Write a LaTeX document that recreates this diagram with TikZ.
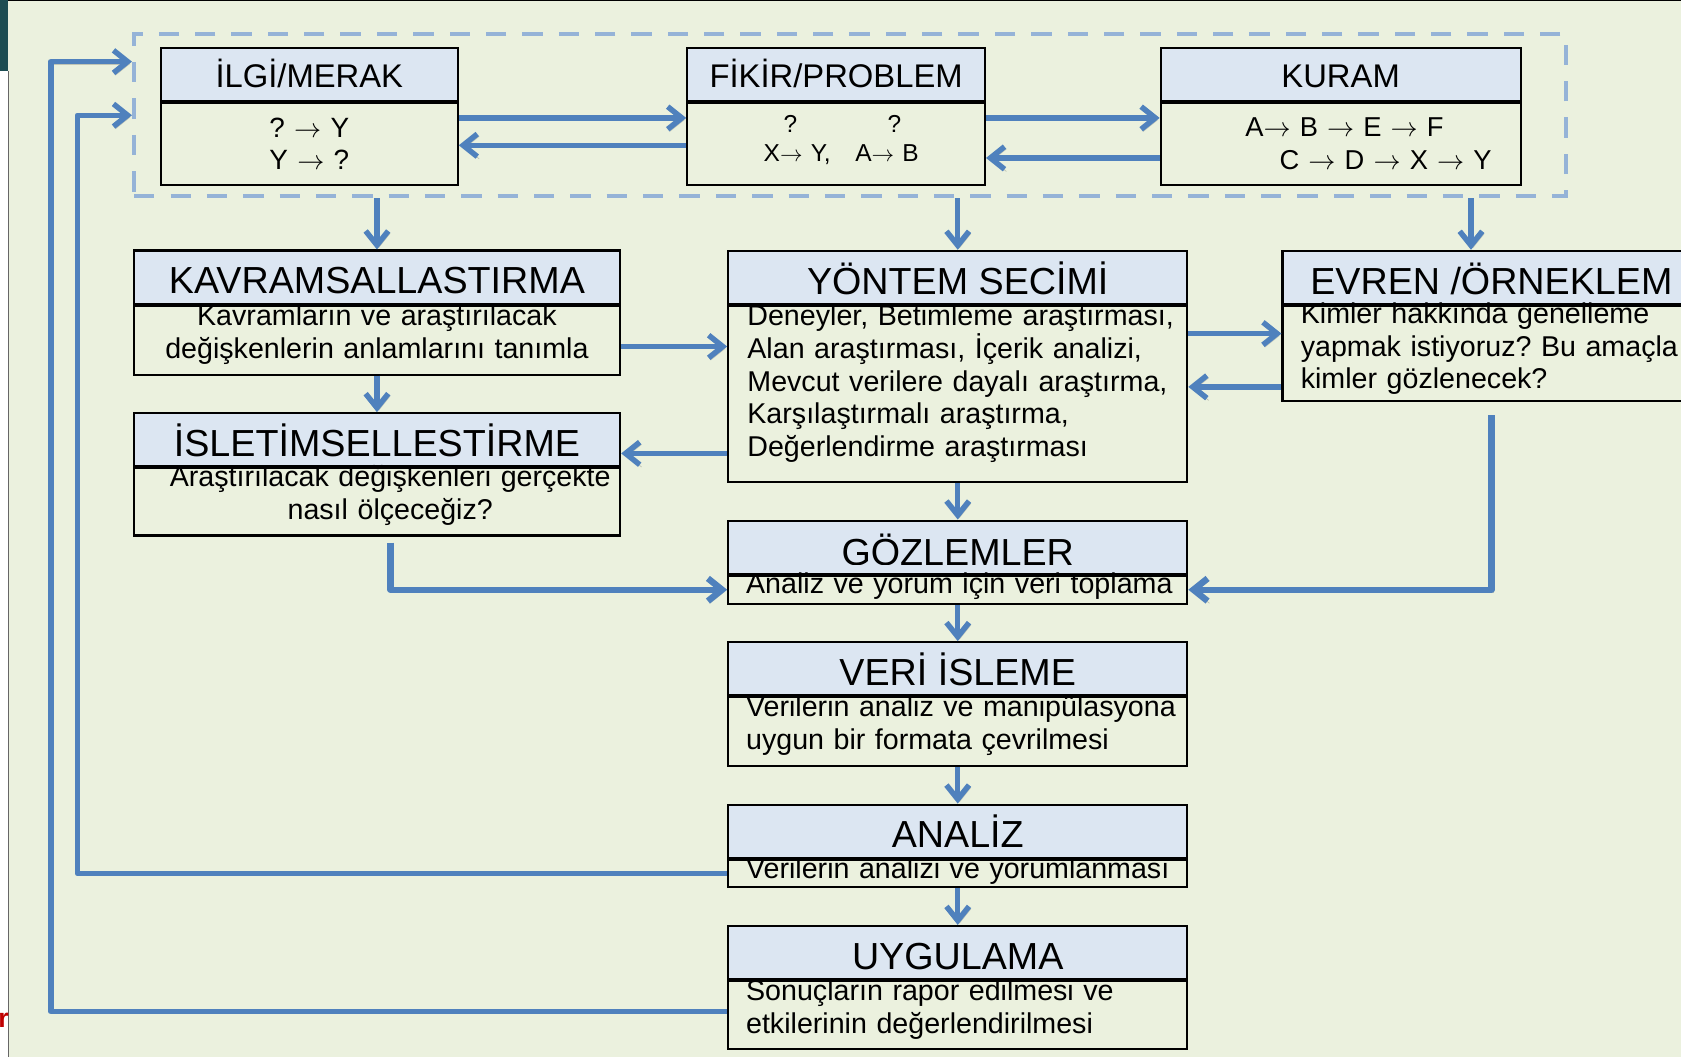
\documentclass[tikz,border=0pt]{standalone}
\usepackage{fontspec}
\setmainfont{Liberation Sans}
\usetikzlibrary{arrows.meta,positioning,calc}
\definecolor{zemin}{HTML}{EBF1DE}
\definecolor{baslik}{HTML}{DCE6F2}
\definecolor{okrenk}{HTML}{4F81BD}
\definecolor{kesikrenk}{HTML}{95B3D7}
\definecolor{koyu}{RGB}{29,77,82}
\definecolor{kirmizi}{HTML}{C00000}
\frenchspacing
\begin{document}
\begin{tikzpicture}[x=0.02cm,y=-0.02cm,
    bas/.style={draw=black,line width=1.1pt,fill=baslik,inner sep=0pt,minimum height=0.99cm,
      font=\fontsize{20}{24}\selectfont,text height=17.9pt,text depth=0pt},
    ustbas/.style={bas,font=\fontsize{17.4}{21}\selectfont,text height=14.3pt},
    govde/.style={draw=black,line width=1.1pt,fill=zemin,inner sep=0pt},
    yazi/.style={inner sep=0pt,text width=9cm,font=\fontsize{15.2}{17.35}\selectfont},
    ok/.style={draw=okrenk,line width=2.9pt,line join=round,-{Straight Barb[length=7.5pt,width=12pt]},
      preaction={draw=black,opacity=0.18,transform canvas={xshift=1pt,yshift=-1.2pt}}},
    okK/.style={ok,line width=3.4pt}]
  \useasboundingbox (0,0) rectangle (1568,986);
  \fill[zemin] (0,0) rectangle (1568,986);
  \fill[koyu] (0,0) rectangle (7.5,66);
  \fill[white] (0,66) rectangle (7.5,986);
  \draw[black!60,line width=0.6pt] (7.9,66) -- (7.9,986);
  \draw[black,line width=0.6pt] (7.5,0.5) -- (1568,0.5);
  \begin{scope}
    \clip (0,900) rectangle (7.5,986);
    \node[anchor=base east,inner sep=0pt,text=kirmizi,font=\bfseries\fontsize{14.2}{16}\selectfont] (kirpik) at (8.6,958) {ır};
  \end{scope}

  \node[draw=kesikrenk,line width=2.3pt,dash pattern=on 10.8pt off 8.5pt,inner sep=0pt,
    minimum width=26.72cm,minimum height=3.02cm] (cerceve) at (793,107.5) {};

  \node[ustbas,minimum width=5.54cm] (ilgi) at (288.5,69.15) {İLGİ/MERAK};
  \node[govde,minimum width=5.54cm,minimum height=1.528cm,below=0pt of ilgi] (ilgiG) {};
  \node[ustbas,minimum width=5.556cm] (fik) at (779.9,69.15) {FİKİR/PROBLEM};
  \node[govde,minimum width=5.556cm,minimum height=1.528cm,below=0pt of fik] (fikG) {};
  \node[ustbas,minimum width=6.716cm] (kur) at (1250.5,69.15) {KURAM};
  \node[govde,minimum width=6.716cm,minimum height=1.528cm,below=0pt of kur] (kurG) {};

  \node[bas,minimum width=9.076cm] (kav) at (351.6,258.4) {KAVRAMSALLASTIRMA};
  \node[govde,minimum width=9.076cm,minimum height=1.286cm,below=0pt of kav] (kavG) {};
  \node[bas,minimum width=9.076cm] (isl) at (351.6,410.15) {İSLETİMSELLESTİRME};
  \node[govde,minimum width=9.076cm,minimum height=1.254cm,below=0pt of isl] (islG) {};
  \node[bas,minimum width=8.566cm] (yon) at (893.35,258.7) {YÖNTEM SECİMİ};
  \node[govde,minimum width=8.566cm,minimum height=3.282cm,below=0pt of yon] (yonG) {};
  \node[bas,minimum width=7.796cm] (evr) at (1391.1,258.7) {EVREN /ÖRNEKLEM};
  \node[govde,minimum width=7.796cm,minimum height=1.772cm,below=0pt of evr] (evrG) {};
  \node[bas,minimum width=8.566cm] (goz) at (893.35,510.3) {};
  \node[govde,minimum width=8.566cm,minimum height=0.524cm,below=0pt of goz] (gozG) {};
  \node[bas,minimum width=8.566cm] (veri) at (893.35,623.7) {VERİ İSLEME};
  \node[govde,minimum width=8.566cm,minimum height=1.28cm,below=0pt of veri] (veriG) {};
  \node[bas,minimum width=8.566cm] (ana) at (893.35,775.25) {ANALİZ};
  \node[govde,minimum width=8.566cm,minimum height=0.51cm,below=0pt of ana] (anaG) {};
  \node[bas,minimum width=8.566cm] (uyg) at (893.35,888.45) {UYGULAMA};
  \node[govde,minimum width=8.566cm,minimum height=1.274cm,below=0pt of uyg] (uygG) {};

  \begin{scope}
    \clip (goz.north west) rectangle ($(goz.south east)+(0,-9.5)$);
    \node[anchor=base,inner sep=0pt,font=\fontsize{20}{24}\selectfont] (gozT) at ($(goz.center)+(0,17)$) {GÖZLEMLER};
  \end{scope}

  \node[anchor=base,inner sep=0pt,text width=4cm,align=center,font=\fontsize{14.8}{17.1}\selectfont] (ilgiT) at (288.5,128)
    {? $\rightarrow$ Y\\Y $\rightarrow$ ?};
  \node[anchor=base west,inner sep=0pt,text width=4cm,align=left,font=\fontsize{13}{15.4}\selectfont] (fikT) at (712,123.7)
    {\hspace*{10.6pt}?\hspace*{48pt}?\\X$\rightarrow$\ Y,\ \ \ A$\rightarrow$\ B};
  \node[anchor=base west,inner sep=0pt,text width=5cm,align=left,font=\fontsize{14.5}{17.3}\selectfont] (kurT) at (1161.3,127.5)
    {A$\rightarrow$ B $\rightarrow$ E $\rightarrow$ F\\\hspace*{18.2pt}C $\rightarrow$ D $\rightarrow$ X $\rightarrow$ Y};
  \node[yazi,anchor=base,align=center] (kavT) at (351.6,303.8)
    {Kavramların ve araştırılacak\\değişkenlerin anlamlarını tanımla};
  \node[yazi,anchor=base,align=center] (islT) at (364,454)
    {Araştırılacak değişkenleri gerçekte\\nasıl ölçeceğiz?};
  \node[yazi,anchor=base west,align=left] (yonT) at (696.8,303.8)
    {Deneyler, Betimleme araştırması,\\Alan araştırması, İçerik analizi,\\Mevcut verilere dayalı araştırma,\\Karşılaştırmalı araştırma,\\Değerlendirme araştırması};
  \node[yazi,anchor=base west,align=left,font=\fontsize{15.2}{17.1}\selectfont] (evrT) at (1213,302.2)
    {Kimler hakkında genelleme\\yapmak istiyoruz? Bu amaçla\\kimler gözlenecek?};
  \node[yazi,anchor=base west,align=left] (gozY) at (695.6,553.5) {Analiz ve yorum için veri toplama};
  \node[yazi,anchor=base west,align=left] (veriT) at (695.6,668.5)
    {Verilerin analiz ve manipülasyona\\uygun bir formata çevrilmesi};
  \node[yazi,anchor=base west,align=left] (anaT) at (695.6,819.3) {Verilerin analizi ve yorumlanması};
  \node[yazi,anchor=base west,align=left] (uygT) at (695.6,933.4)
    {Sonuçların rapor edilmesi ve\\etkilerinin değerlendirilmesi};

  \coordinate (a1) at ($(ilgiG.east)+(0,-24)$);
  \coordinate (a2) at ($(fikG.west)+(0,1.5)$);
  \coordinate (a3) at ($(fikG.east)+(0,-24)$);
  \coordinate (a4) at ($(kurG.west)+(0,13.3)$);
  \draw[ok] (a1) -- (a1 -| fikG.west);
  \draw[ok] (a2) -- (a2 -| ilgiG.east);
  \draw[ok] (a3) -- (a3 -| kurG.west);
  \draw[ok] (a4) -- (a4 -| fikG.east);

  \coordinate (evrOk) at ($(evr.north)+(-19,0)$);
  \draw[ok] (cerceve.south -| kav.north) -- (kav.north);
  \draw[ok] (cerceve.south -| yon.north) -- (yon.north);
  \draw[ok] (cerceve.south -| evrOk) -- (evrOk);

  \coordinate (k1) at ($(kavG.east)+(0,6)$);
  \draw[ok] (k1) -- (k1 -| yonG.west);
  \draw[ok] (kavG.south) -- (isl.north);
  \coordinate (i1) at ($(isl.east)+(0,12.8)$);
  \draw[ok] (yonG.west |- i1) -- (i1);
  \coordinate (e1) at ($(evrG.west)+(0,-18.5)$);
  \coordinate (e2) at ($(evrG.west)+(0,31.2)$);
  \draw[ok] (yonG.east |- e1) -- (e1);
  \draw[ok] (e2) -- (yonG.east |- e2);
  \draw[ok] (yonG.south) -- (goz.north);

  \coordinate (i2) at ($(islG.south)+(12.6,5.7)$);
  \coordinate (e3) at ($(evrG.south)+(0,12.4)$);
  \draw[okK] (i2) |- (gozG.west);
  \draw[okK] (e3) |- (gozG.east);

  \draw[ok] (gozG.south) -- (veri.north);
  \draw[ok] (veriG.south) -- (ana.north);
  \draw[ok] (anaG.south) -- (uyg.north);

  \draw[ok] (anaG.west) -| ($(cerceve.west)+(-51,0)$) -- (cerceve.west);
  \coordinate (u1) at ($(uygG.west)+(0,-3.5)$);
  \draw[ok] (u1) -| ($(cerceve.west)+(-75.7,-50)$) -- ($(cerceve.west)+(0,-50)$);
\end{tikzpicture}
\end{document}
